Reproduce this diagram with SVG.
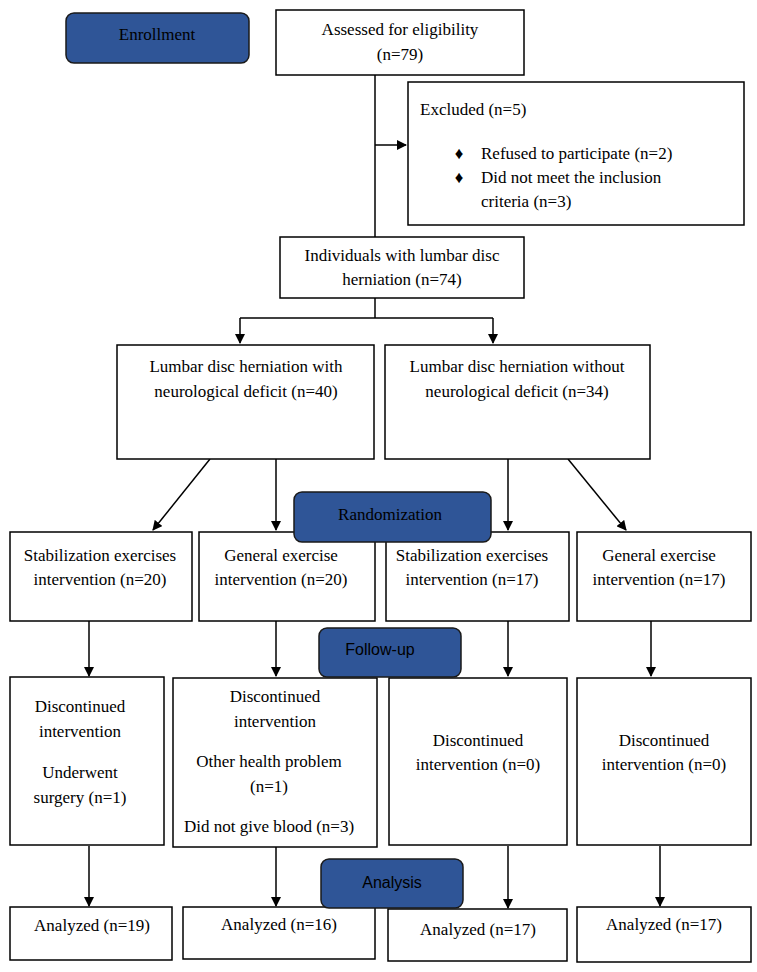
<svg xmlns="http://www.w3.org/2000/svg" width="757" height="972" viewBox="0 0 757 972" font-family="'Liberation Serif','Times New Roman',serif">
<style>
.b{fill:#fff;stroke:#000;stroke-width:1.5}
.h{fill:#2F5597;stroke:#1a1a1a;stroke-width:1.5}
text{font-family:'Liberation Serif','Times New Roman',serif;font-size:17px;fill:#000;text-anchor:middle}
text.s{font-family:'Liberation Sans Narrow','Liberation Sans',sans-serif;font-size:16px}
text.l{text-anchor:start}
.c line{stroke:#000;stroke-width:1.5;fill:none}
</style>
<defs><marker id="a" markerWidth="10" markerHeight="10" refX="9" refY="5" orient="auto" markerUnits="userSpaceOnUse"><path d="M0,0 L10,5 L0,10 z" fill="#000"/></marker></defs>
<rect width="757" height="972" fill="#fff"/>
<g class="c">
<line x1="375" y1="75" x2="375" y2="237"/>
<line x1="375" y1="145" x2="406" y2="145" marker-end="url(#a)"/>
<line x1="375" y1="298" x2="375" y2="318"/>
<line x1="240" y1="318" x2="493" y2="318"/>
<line x1="240" y1="318" x2="240" y2="343" marker-end="url(#a)"/>
<line x1="493" y1="318" x2="493" y2="343" marker-end="url(#a)"/>
<line x1="210" y1="459" x2="153" y2="530" marker-end="url(#a)"/>
<line x1="276" y1="459" x2="276" y2="530" marker-end="url(#a)"/>
<line x1="508" y1="459" x2="508" y2="530" marker-end="url(#a)"/>
<line x1="568" y1="459" x2="626" y2="530" marker-end="url(#a)"/>
<line x1="89" y1="621" x2="89" y2="676" marker-end="url(#a)"/>
<line x1="276" y1="621" x2="276" y2="676" marker-end="url(#a)"/>
<line x1="508" y1="621" x2="508" y2="676" marker-end="url(#a)"/>
<line x1="651" y1="621" x2="651" y2="676" marker-end="url(#a)"/>
<line x1="89" y1="846" x2="89" y2="906" marker-end="url(#a)"/>
<line x1="276" y1="846" x2="276" y2="906" marker-end="url(#a)"/>
<line x1="508" y1="846" x2="508" y2="908" marker-end="url(#a)"/>
<line x1="660" y1="846" x2="660" y2="906" marker-end="url(#a)"/>
</g>
<g id="enrollment"><rect class="h" x="66" y="13" width="183" height="50" rx="8"/><text x="157" y="40">Enrollment</text></g>
<g id="assessed"><rect class="b" x="276" y="10" width="248" height="65"/><text x="400" y="35">Assessed for eligibility</text><text x="400" y="60">(n=79)</text></g>
<g id="excluded"><rect class="b" x="408" y="82" width="336" height="143"/><text class="l" x="420" y="115">Excluded (n=5)</text>
<text x="459" y="159">♦</text><text class="l" x="481" y="159">Refused to participate (n=2)</text>
<text x="459" y="183">♦</text><text class="l" x="481" y="183">Did not meet the inclusion</text><text class="l" x="481" y="207">criteria (n=3)</text></g>
<g id="individuals"><rect class="b" x="280" y="237" width="244" height="61"/><text x="402" y="261">Individuals with lumbar disc</text><text x="402" y="285">herniation (n=74)</text></g>
<g id="with"><rect class="b" x="117" y="345" width="257" height="114"/><text x="246" y="372">Lumbar disc herniation with</text><text x="246" y="397">neurological deficit (n=40)</text></g>
<g id="without"><rect class="b" x="385" y="345" width="265" height="114"/><text x="517" y="372">Lumbar disc herniation without</text><text x="517" y="397">neurological deficit (n=34)</text></g>
<g id="r1"><rect class="b" x="10" y="532" width="182" height="89"/><text x="100" y="561">Stabilization exercises</text><text x="100" y="585">intervention (n=20)</text></g>
<g id="r2"><rect class="b" x="199" y="532" width="176" height="89"/><text x="281" y="561">General exercise</text><text x="281" y="585">intervention (n=20)</text></g>
<g id="r3"><rect class="b" x="386" y="532" width="183" height="89"/><text x="472" y="561">Stabilization exercises</text><text x="472" y="585">intervention (n=17)</text></g>
<g id="r4"><rect class="b" x="577" y="532" width="174" height="89"/><text x="659" y="561">General exercise</text><text x="659" y="585">intervention (n=17)</text></g>
<g id="randomization"><rect class="h" x="294" y="492" width="197" height="50" rx="8"/><text x="390" y="520">Randomization</text></g>
<g id="f1"><rect class="b" x="10" y="677" width="154" height="168"/><text x="80" y="712">Discontinued</text><text x="80" y="737">intervention</text><text x="80" y="778">Underwent</text><text x="80" y="803">surgery (n=1)</text></g>
<g id="f2"><rect class="b" x="173" y="678" width="204" height="169"/><text x="275" y="702">Discontinued</text><text x="275" y="727">intervention</text><text x="269" y="767">Other health problem</text><text x="269" y="792">(n=1)</text><text x="269" y="832">Did not give blood (n=3)</text></g>
<g id="f3"><rect class="b" x="389" y="678" width="178" height="167"/><text x="478" y="746">Discontinued</text><text x="478" y="770">intervention (n=0)</text></g>
<g id="f4"><rect class="b" x="577" y="678" width="174" height="167"/><text x="664" y="746">Discontinued</text><text x="664" y="770">intervention (n=0)</text></g>
<g id="followup"><rect class="h" x="319" y="628" width="142" height="49" rx="8"/><text class="s" x="380" y="655">Follow-up</text></g>
<g id="a1"><rect class="b" x="10" y="907" width="162" height="53"/><text x="92" y="931">Analyzed (n=19)</text></g>
<g id="a2"><rect class="b" x="183" y="907" width="192" height="52"/><text x="279" y="930">Analyzed (n=16)</text></g>
<g id="a3"><rect class="b" x="388" y="909" width="179" height="52"/><text x="478" y="935">Analyzed (n=17)</text></g>
<g id="a4"><rect class="b" x="577" y="907" width="174" height="55"/><text x="664" y="930">Analyzed (n=17)</text></g>
<g id="analysis"><rect class="h" x="321" y="859" width="142" height="49" rx="8"/><text class="s" x="392" y="888">Analysis</text></g>
</svg>
